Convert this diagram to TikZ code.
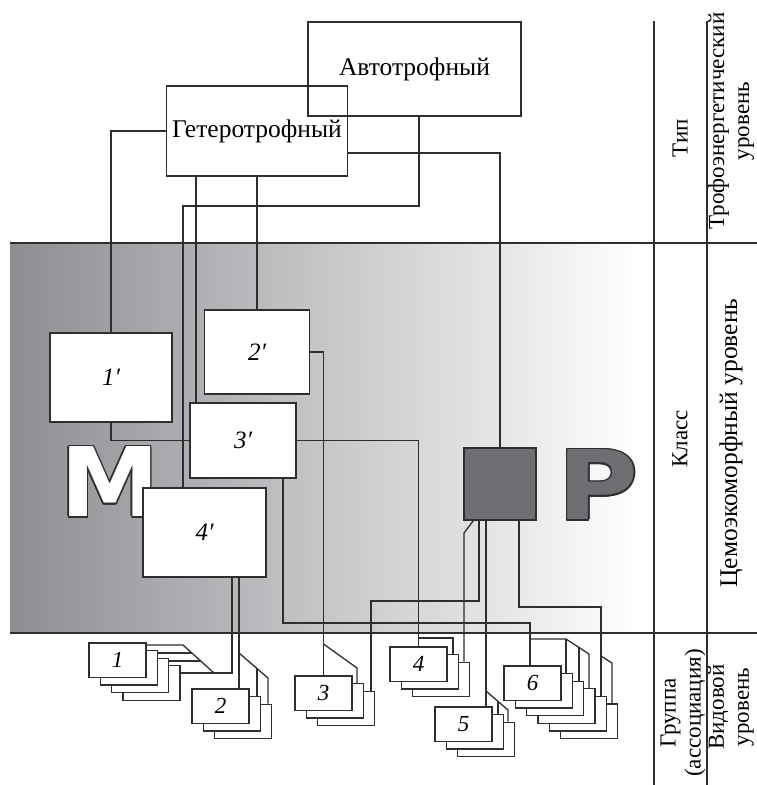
\documentclass[tikz,border=0pt]{standalone}
\usepackage{fontspec}
\setmainfont{Liberation Serif}
\newfontfamily\bigsans{DejaVu Sans}
\usetikzlibrary{calc}
\definecolor{wirecol}{HTML}{2E2E2E}
\definecolor{bandgray}{HTML}{8C8E92}
\definecolor{darkfill}{HTML}{6D6E71}

% a pile of group cards, front card first in the name list
\newcommand{\cardstack}[5]{%
  \foreach \k in {#4,...,1}
    \node[card] (#1-\k) at ({#2+28.5+(\k-1)*11.3},{#3+17.25+(\k-1)*7.6}) {};
  \node[cardlabel] (#1-t) at (#1-1) {#5};
}
% big letter with a thin dark rim
\newcommand{\outlined}[5]{%
  \foreach \a in {0,30,...,330}
    \node[bigletter, #5, text=wirecol] (#1-\a) at ($(#2)+(\a:1.5)$) {#4};
  \node[bigletter, #5, text=#3] (#1) at (#2) {#4};
}

\begin{document}
\begin{tikzpicture}[x=1pt, y=-1pt,
    wire/.style={draw=wirecol, line width=1.3pt},
    topbox/.style={draw=wirecol, line width=1.3pt, inner sep=0pt,
        font=\fontsize{25.5}{28}\selectfont},
    subbox/.style={topbox, fill=white, font=\fontsize{25}{28}\selectfont\itshape},
    card/.style={draw=wirecol, line width=1.3pt, fill=white,
        minimum width=57pt, minimum height=34.5pt, inner sep=0pt},
    cardlabel/.style={font=\fontsize{23}{24}\selectfont\itshape, inner sep=0pt},
    levelname/.style={rotate=90, align=center, inner sep=0pt,
        font=\fontsize{23}{25}\selectfont},
    bigletter/.style={font=\bigsans\bfseries\fontsize{96}{96}\selectfont, inner sep=0pt}]

    \useasboundingbox (0,0) rectangle (757,785);

    % band and level rules
    \shade[left color=bandgray, right color=white] (10,243) rectangle (640,633);
    \draw[wire] (10,243) -- (757,243);
    \draw[wire] (10,633) -- (757,633);
    \draw[wire] (654,21) -- (654,785);
    \draw[wire] (707,21) -- (707,785);

    \outlined{letM}{110,482}{white}{M}{xscale=1.04}
    \outlined{letP}{598,485}{darkfill}{P}{xscale=1.15}

    % boxes
    \node[topbox, minimum width=213pt, minimum height=94pt] (avto) at (414.5,69) {Автотрофный};
    \node[topbox, minimum width=181pt, minimum height=90pt] (het) at (257,131) {Гетеротрофный};
    \node[subbox, minimum width=122pt, minimum height=89pt] (p1) at (111,377.5) {1′};
    \node[subbox, minimum width=105pt, minimum height=84pt] (p2) at (257,352) {2′};
    \node[subbox, minimum width=106pt, minimum height=75pt] (p3) at (243,440.5) {3′};
    \node[subbox, minimum width=123pt, minimum height=89pt] (p4) at (204.5,532.5) {4′};
    \node[draw=wirecol, fill=darkfill, line width=1.3pt, minimum size=72pt] (sq) at (500,484) {};

    \cardstack{s1}{89}{643}{4}{1}
    \cardstack{s2}{192}{689}{3}{2}
    \cardstack{s3}{295}{676}{3}{3}
    \cardstack{s4}{390}{647}{3}{4}
    \cardstack{s5}{435}{707}{3}{5}
    \cardstack{s6}{504}{666}{6}{6}

    % level names
    \node[levelname] (tip) at (680,138) {Тип};
    \node[levelname] (trof) at (731,121) {Трофоэнергетический\\уровень};
    \node[levelname] (klass) at (680,439) {Класс};
    \node[levelname, font=\fontsize{25.5}{27}\selectfont] (cem) at (731,443) {Цемоэкоморфный уровень};
    \node[levelname] (grp) at (683,713) {Группа\\(ассоциация)};
    \node[levelname] (vid) at (731,707) {Видовой\\уровень};

    % attachment points and corners
    \coordinate (a4) at ([xshift=4.5pt]avto.south);
    \coordinate (h3) at ([xshift=-61pt]het.south);
    \coordinate (hq) at ([yshift=-22pt]het.east);
    \coordinate (q1) at ([xshift=27.5pt]p4.south);
    \coordinate (q2) at ([xshift=34.5pt]p4.south);
    \coordinate (r6) at ([xshift=40pt]p3.south);
    \coordinate (sq3) at ([xshift=-21pt]sq.south);
    \coordinate (sq4) at ([xshift=10pt]sq.south west);
    \coordinate (sq5) at ([xshift=-14pt]sq.south);
    \coordinate (sq6) at ([xshift=19pt]sq.south);
    \coordinate (k4) at (183,206);
    \coordinate (k3) at (371,601);
    \coordinate (k4b) at (464,533);
    \coordinate (k6) at (530,623);
    \coordinate (k6b) at (601,607);
    \coordinate (j1a) at (183,645);
    \coordinate (j1b) at (214,673);
    \coordinate (j1c) at (191.9,653);
    \coordinate (j1d) at (200.7,661);
    \coordinate (j2a) at (239,653);
    \coordinate (j2b) at (268,678);
    \coordinate (j2c) at (257,668.5);
    \coordinate (j3a) at (323.5,644);
    \coordinate (j3b) at (357,668);
    \coordinate (j4) at (418.5,638);
    \coordinate (j5a) at (486,691);
    \coordinate (j5b) at (508,710);
    \coordinate (j5c) at (498,701.4);
    \coordinate (j6a) at (530,639);
    \coordinate (j6b) at (566,639);
    \coordinate (j6c) at (589,654);
    \coordinate (j6e) at (579,647.5);
    \coordinate (j6f) at (601,656);
    \coordinate (j6g) at (612,663);

    % type level -> class level
    \draw[wire] (het.west) -| (p1.north);
    \draw[wire] (a4) |- (k4) -- (k4 |- p4.north);
    \draw[wire] (h3) -- (h3 |- p3.north);
    \draw[wire] (het.south) -- (p2.north);
    \draw[wire] (hq) -| (sq.north);
    \draw[wire] (p1.south) |- (p3.west);

    % class level -> groups
    \draw[wire] (q1) |- (s1-4.east |- j1b);
    \draw[wire] (s1-1.east |- j1a) -- (j1a) -- (j1b);
    \draw[wire] (s1-2.east |- j1c) -- (j1c);
    \draw[wire] (s1-3.east |- j1d) -- (j1d);

    \draw[wire] (q2) -- (q2 |- s2-1.north);
    \draw[wire] (j2a) -- (j2b) -- (j2b |- s2-3.north);
    \draw[wire] (j2c) -- (j2c |- s2-2.north);

    \draw[wire] (p2.east) -| (s3-1.north);
    \draw[wire] (j3a) -- (j3b) -- (j3b |- s3-2.north);
    \draw[wire] (sq3) |- (k3) -- (k3 |- s3-3.north);

    \draw[wire] (p3.east) -| (s4-1.north);
    \draw[wire] (j4) -| ([xshift=-6pt]s4-2.north east);
    \draw[wire] (sq4) -- (k4b) -- (k4b |- s4-3.north);

    \draw[wire] (sq5) -- (sq5 |- s5-1.north);
    \draw[wire] (j5a) -- (j5b) -- (j5b |- s5-3.north);
    \draw[wire] (j5c) -- (j5c |- s5-2.north);

    \draw[wire] (r6) |- (k6) -- (k6 |- s6-1.north);
    \draw[wire] (j6a) -- (j6b) -- (j6c) -- (j6c |- s6-4.north);
    \draw[wire] (j6b) -- (j6b |- s6-2.north);
    \draw[wire] (j6e) -- (j6e |- s6-3.north);
    \draw[wire] (sq6) |- (k6b) -- (k6b |- s6-5.north);
    \draw[wire] (j6f) -- (j6g) -- (j6g |- s6-6.north);

\end{tikzpicture}
\end{document}
